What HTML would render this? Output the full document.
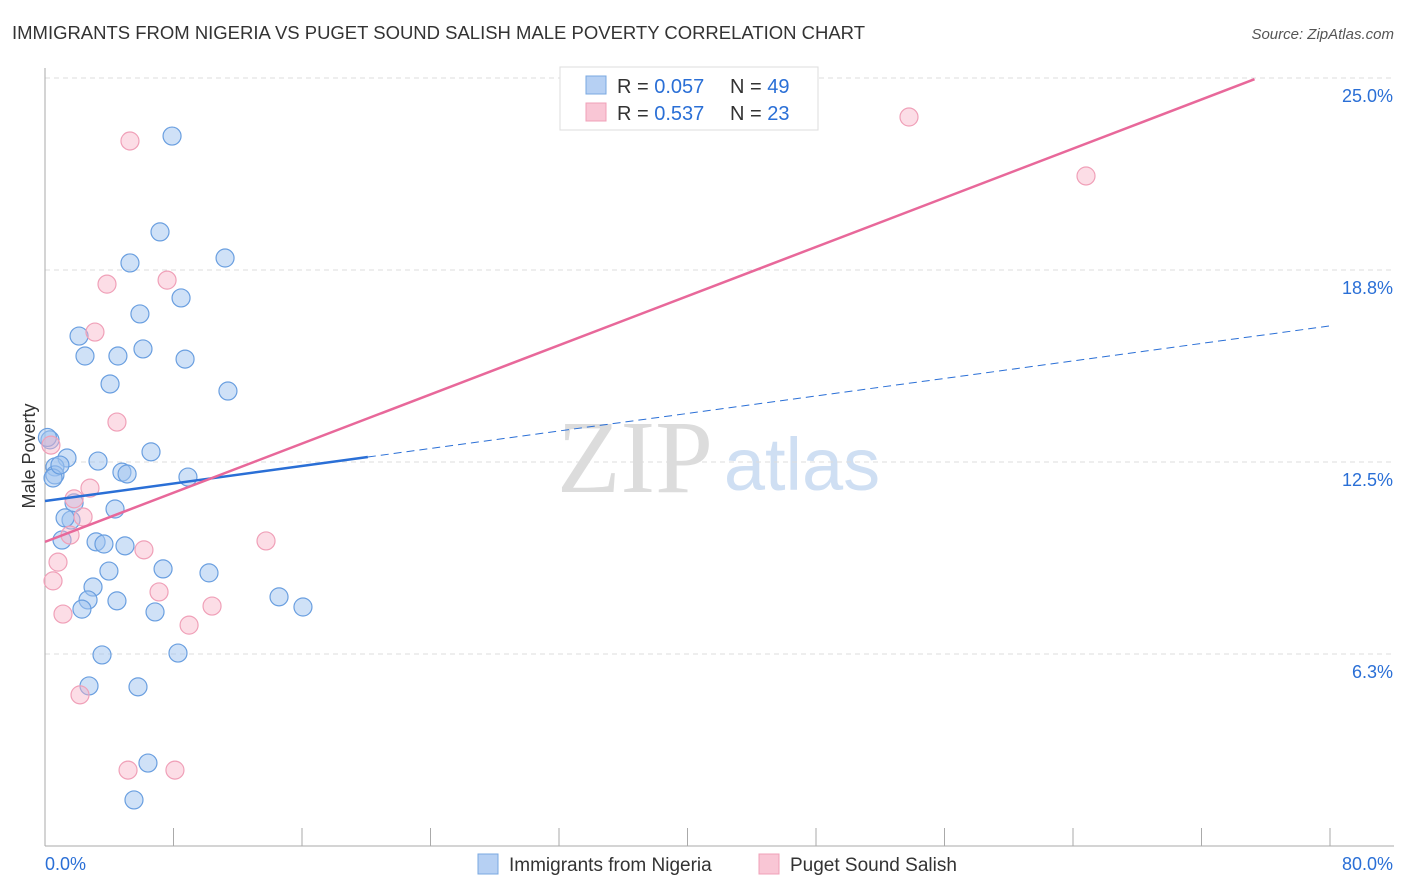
<!DOCTYPE html>
<html><head><meta charset="utf-8"><style>
body{margin:0;background:#fff;font-family:"Liberation Sans",sans-serif;}
svg{display:block}
</style></head><body>
<svg id="chart" width="1406" height="892">
<text x="12" y="39" font-size="18" fill="#333" textLength="853" lengthAdjust="spacingAndGlyphs">IMMIGRANTS FROM NIGERIA VS PUGET SOUND SALISH MALE POVERTY CORRELATION CHART</text>
<text x="1394" y="39" font-size="15" fill="#555" font-style="italic" text-anchor="end">Source: ZipAtlas.com</text>
<text x="35" y="456" font-size="18" fill="#333" text-anchor="middle" transform="rotate(-90 35 456)">Male Poverty</text>
<g>
<text x="635" y="492" font-size="104" fill="#dcdcdc" text-anchor="middle" font-family="Liberation Serif,serif">ZIP</text>
<text x="802" y="490" font-size="74" fill="#cfdff3" text-anchor="middle">atlas</text>
</g>
<g id="grid"></g>
<g id="axes"></g>
<g id="marks"></g>
<g>
<rect x="560" y="67" width="258" height="63" fill="#fff" stroke="#ddd"/>
<rect x="586" y="76" width="20" height="18" fill="#b6d0f3" stroke="#7aa8e0"/>
<rect x="586" y="103" width="20" height="18" fill="#f9c6d5" stroke="#f0a0b8"/>
<text x="617" y="93" font-size="20" fill="#333">R = <tspan fill="#2a6fd6">0.057</tspan><tspan x="730">N = </tspan><tspan fill="#2a6fd6">49</tspan></text>
<text x="617" y="120" font-size="20" fill="#333">R = <tspan fill="#2a6fd6">0.537</tspan><tspan x="730">N = </tspan><tspan fill="#2a6fd6">23</tspan></text>
</g>
<g>
<rect x="478" y="854" width="20" height="20" fill="#b6d0f3" stroke="#7aa8e0"/>
<text x="509" y="871" font-size="19" fill="#333">Immigrants from Nigeria</text>
<rect x="759" y="854" width="20" height="20" fill="#f9c6d5" stroke="#f0a0b8"/>
<text x="790" y="871" font-size="19" fill="#333">Puget Sound Salish</text>
</g>
</svg>
<script>
const yTicks=[6.25,12.5,18.75,25];
const yTickLabels=["6.3%","12.5%","18.8%","25.0%"];
const xTickLabels=["0.0%","80.0%"];
const blueX=[7.91,7.16,11.21,5.29,8.47,5.91,2.12,2.49,4.54,6.10,8.72,4.05,11.39,6.60,0.31,3.30,1.37,0.62,0.62,0.50,4.79,5.11,8.90,4.36,1.81,1.62,1.25,1.06,3.18,3.67,4.98,3.98,7.35,10.21,2.99,2.68,4.48,2.30,6.85,14.57,16.06,3.55,8.28,2.74,5.79,6.41,5.54,0.15,0.93];
const blueY=[23.11,19.99,19.14,18.98,17.84,17.32,16.60,15.95,15.95,16.18,15.85,15.04,14.81,12.83,13.22,12.53,12.63,12.34,12.08,11.98,12.17,12.11,12.01,10.97,11.17,10.61,10.68,9.96,9.90,9.83,9.77,8.95,9.02,8.89,8.43,8.01,7.98,7.71,7.62,8.11,7.78,6.22,6.28,5.21,5.18,2.70,1.50,13.3,12.40];
const pinkX=[5.29,53.79,64.81,7.60,3.86,3.11,4.48,0.37,1.81,2.80,1.56,2.37,6.16,0.81,13.76,0.50,7.10,10.40,1.12,8.97,2.18,5.17,8.09];
const pinkY=[22.95,23.73,21.81,18.42,18.29,16.73,13.80,13.05,11.30,11.65,10.12,10.71,9.64,9.24,9.93,8.63,8.27,7.81,7.55,7.19,4.92,2.47,2.47];
const blueTrend=[11.23,16.93]; // y at x=0 and x=80
const blueSolidEnd=20.1;
const pinkTrend=[9.90,0.2]; // intercept, slope
const pinkEnd=75.3;

const NS="http://www.w3.org/2000/svg";
const X=v=>45+v/80*1285, Y=v=>846-v/25*768;
function mk(t,a,p){const e=document.createElementNS(NS,t);for(const k in a)e.setAttribute(k,a[k]);p.appendChild(e);return e;}
const grid=document.getElementById('grid'),axes=document.getElementById('axes'),marks=document.getElementById('marks');
yTicks.forEach((t,i)=>{
 const l=mk('line',{x1:45,x2:1394,y1:Y(t),y2:Y(t),stroke:'#ddd','stroke-dasharray':'5,4'},grid);
 
 
 const tx=mk('text',{x:1393,y:Y(t)+24,'font-size':18,fill:'#2a6fd6','text-anchor':'end'},axes);
 tx.textContent=yTickLabels[i];
 
 
});
mk('line',{x1:45,x2:45,y1:68,y2:846,stroke:'#aaa'},axes);
mk('line',{x1:45,x2:1394,y1:846,y2:846,stroke:'#aaa'},axes);
for(let i=1;i<=10;i++){const x=X(i*8);mk('line',{x1:x,x2:x,y1:828,y2:846,stroke:'#aaa'},axes);}
[[0,'start',45],[80,'end',1393]].forEach((d,i)=>{
 const t=mk('text',{x:d[2],y:870,'font-size':18,fill:'#2a6fd6','text-anchor':d[1]},axes);
 t.textContent=xTickLabels[i];
 
 
});
blueX.forEach((x,i)=>{
 const c=mk('circle',{cx:X(x),cy:Y(blueY[i]),r:9,fill:'rgba(160,196,240,0.5)',stroke:'#6a9fe0','stroke-width':1.2},marks);
 
 
});
pinkX.forEach((x,i)=>{
 const c=mk('circle',{cx:X(x),cy:Y(pinkY[i]),r:9,fill:'rgba(248,180,200,0.45)',stroke:'#f0a0b8','stroke-width':1.2},marks);
 
 
});
const by=x=>blueTrend[0]+(blueTrend[1]-blueTrend[0])*x/80;
const b1=mk('line',{x1:X(0),y1:Y(by(0)),x2:X(blueSolidEnd),y2:Y(by(blueSolidEnd)),stroke:'#2a6fd6','stroke-width':2.5},marks);


const b2=mk('line',{x1:X(blueSolidEnd),y1:Y(by(blueSolidEnd)),x2:X(80),y2:Y(by(80)),stroke:'#2a6fd6','stroke-width':1,'stroke-dasharray':'8,5'},marks);


const p1=mk('line',{x1:X(0),y1:Y(pinkTrend[0]),x2:X(pinkEnd),y2:Y(pinkTrend[0]+pinkTrend[1]*pinkEnd),stroke:'#e8689a','stroke-width':2.5},marks);


</script>
</body></html>
